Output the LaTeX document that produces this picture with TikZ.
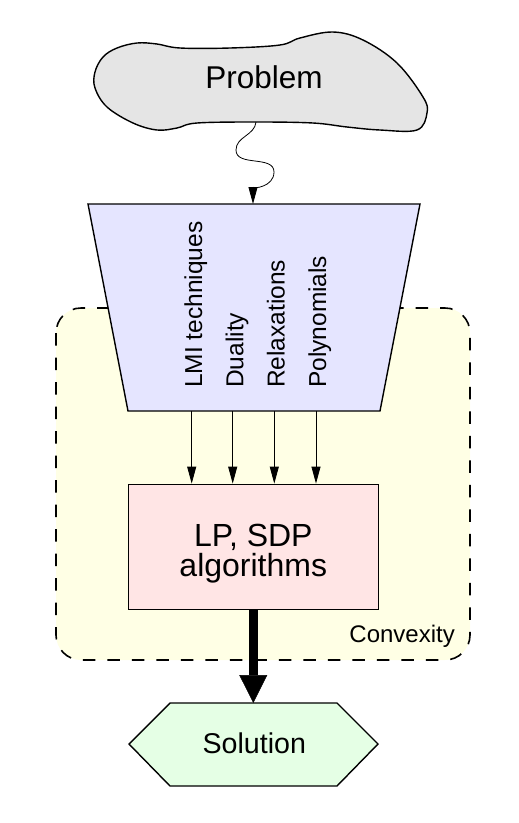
\documentclass[tikz,border=0pt]{standalone}
\usepackage{fontspec}
\setmainfont{Liberation Sans}
\usetikzlibrary{arrows.meta}
\definecolor{probfill}{RGB}{229,229,229}
\definecolor{methfill}{RGB}{229,229,255}
\definecolor{algofill}{RGB}{255,229,229}
\definecolor{solfill}{RGB}{229,255,229}
\definecolor{cvxfill}{RGB}{255,255,229}
\begin{document}
\begin{tikzpicture}[x=1pt,y=1pt,
    outline/.style={draw=black, line width=1.4pt},
    edge/.style={draw=black, line width=0.8pt, -{Triangle[length=17pt,width=9pt]}},
    method/.style={rotate=90, anchor=base west, inner sep=0pt, font=\fontsize{24.5}{24.5}\selectfont}]
                    \useasboundingbox (0,0) rectangle (519,-823);
                    \draw[fill=cvxfill, line width=1.6pt, dash pattern=on 12.5pt off 12pt, rounded corners=25pt] (56,-308) rectangle (470,-660);
                    \node[anchor=base east, inner sep=0pt, font=\fontsize{24}{24}\selectfont] (cvx) at (455,-642) {Convexity};

                    \draw[outline, fill=probfill] plot[smooth cycle, tension=0.6] coordinates {(95,-72) (103,-57) (117,-48) (137,-43) (157,-44) (180,-48) (230,-48) (280,-45) (300,-38) (333,-32) (363,-40) (397,-63) (423,-97) (427,-113) (417,-130) (380,-130) (347,-127) (313,-123) (257,-122) (197,-123) (177,-128) (157,-130) (133,-123) (107,-107) (95,-88)};
                    \node[anchor=base, inner sep=0pt, font=\fontsize{31.5}{31.5}\selectfont] (problem) at (264,-88.3) {Problem};
                    \coordinate (prob-out) at (256,-122);

                    \draw[outline, fill=methfill] (88,-204)--(420,-204)--(380,-411)--(128,-411)--cycle;
                    \coordinate (meth-in) at (253,-204);
                    \node[method] (lmi) at (202,-388) {LMI techniques};
                    \node[method] (duality) at (243.3,-388) {Duality};
                    \node[method] (relax) at (284.5,-388) {Relaxations};
                    \node[method] (poly) at (326,-388) {Polynomials};
                    \foreach \m/\x in {1/191.7, 2/232.7, 3/274.3, 4/316}
                        \coordinate (m\m) at (\x,-411);

                    \node[outline, fill=algofill, minimum width=250pt, minimum height=125pt] (algo) at (253.3,-546.8) {};
                    \node[align=center, inner sep=0pt, font=\fontsize{32}{30}\selectfont] (algo-lbl) at (253.3,-553.6) {LP, SDP\\algorithms};

                    \draw[outline, fill=solfill] (129,-744)--(170,-703)--(337,-703)--(378,-744)--(337,-786)--(170,-786)--cycle;
                    \node[anchor=base, inner sep=0pt, font=\fontsize{28.6}{28.6}\selectfont] (sol) at (254.3,-753) {Solution};
                    \coordinate (sol-in) at (253.3,-703);

                    \draw[edge] (prob-out) to[out=-95,in=90] ++(-20,-28) to[out=-90,in=90] ++(38,-22) to[out=-90,in=90] (meth-in);
                    \foreach \m in {1,2,3,4}
                        \draw[edge] (m\m) -- (m\m |- algo.north);
                    \draw[line width=9pt, -{Triangle[length=28pt,width=28pt,line width=0.5pt]}] (algo.south) -- (sol-in);
                \end{tikzpicture}
\end{document}
